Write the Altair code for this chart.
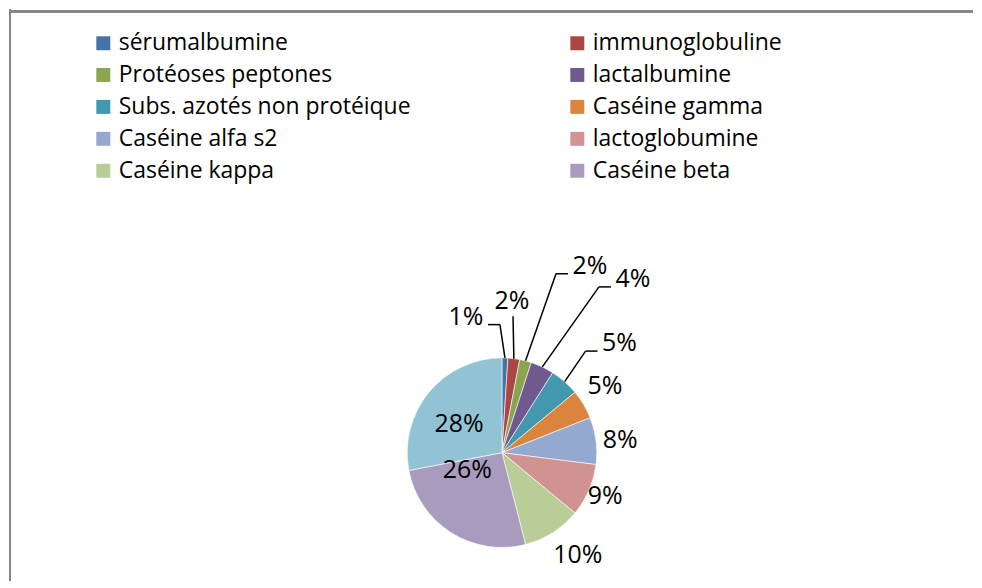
import altair as alt
import pandas as pd

# ---- data ----
names = [
    "sérumalbumine", "immunoglobuline", "Protéoses peptones", "lactalbumine",
    "Subs. azotés non protéique", "Caséine gamma", "Caséine alfa s2",
    "lactoglobumine", "Caséine kappa", "Caséine beta", "Caséine alfa s1",
]
values = [1, 2, 2, 4, 5, 5, 8, 9, 10, 26, 28]
colors = [
    "#4572A7", "#AA4643", "#89A54E", "#71588F", "#4198AF", "#DB843D",
    "#93A9CF", "#D19392", "#B9CD96", "#A99BBD", "#92C3D4",
]
legend_names = names[:10]  # the last entry is cut off in the original legend

# ---- label layout (placement of the data labels, not data) ----
label_radius = [141, 152, 207, 218, 161, 123, 119, 112, 128, 39, 52]
label_angle_shift = [-16.6, -3.4, 10.8, 11.8, 5.6, -2.4, 1.2, -0.7, -4.0, 30.6, -5.6]
callout_side = ["L", "B", "R", "R", "R", "", "", "", "", "", ""]

W, H = 966, 572
CX, CY, R = 494, 444, 95
FONT = "Open Sans"

df = pd.DataFrame({
    "name": names,
    "value": values,
    "order": list(range(len(names))),
    "lr": label_radius,
    "shift": label_angle_shift,
    "side": callout_side,
})

base = alt.Chart(df).transform_joinaggregate(
    total="sum(value)"
).transform_window(
    cum="sum(value)", sort=[alt.SortField("order")], frame=[None, 0]
).transform_calculate(
    mid="(datum.cum - datum.value / 2) / datum.total * 2 * PI",
).transform_calculate(
    la="datum.mid + datum.shift * PI / 180",
    ax=f"{CX} + {R} * sin(datum.mid)",
    ay=f"{CY} - {R} * cos(datum.mid)",
    label="datum.value + '%'",
).transform_calculate(
    lx=f"{CX} + datum.lr * sin(datum.la)",
    ly=f"{CY} - datum.lr * cos(datum.la)",
).transform_calculate(
    sx="datum.side == 'R' ? 1 : (datum.side == 'L' ? -1 : 0)",
).transform_calculate(
    cx="datum.side == 'B' ? datum.lx + 1 : datum.lx - datum.sx * 22",
    cy="datum.side == 'B' ? datum.ly + 15 : datum.ly + 8",
    bx="datum.side == 'B' ? datum.lx + 1 : datum.lx - datum.sx * 34",
)

pie = alt.Chart(df).mark_arc(
    outerRadius=R, stroke="#ffffff", strokeWidth=0.6
).encode(
    theta=alt.Theta("value:Q", stack=True),
    order=alt.Order("order:Q"),
    color=alt.Color(
        "name:N",
        scale=alt.Scale(domain=names, range=colors),
        sort=names,
        legend=alt.Legend(
            title=None,
            values=legend_names,
            orient="none",
            direction="horizontal",
            legendX=83,
            legendY=22,
            columns=2,
            columnPadding=155,
            rowPadding=8,
            symbolType="square",
            symbolSize=196,
            symbolStrokeWidth=0,
            symbolOpacity=1,
            labelFont=FONT,
            labelFontSize=23,
            labelColor="#000000",
            labelOffset=4,
            labelLimit=600,
            padding=0,
        ),
    ),
    x=alt.value(CX),
    y=alt.value(CY),
)

callouts = base.transform_filter("datum.side != ''")

lead1 = callouts.mark_rule(color="#000000", strokeWidth=1.5).encode(
    x=alt.X("ax:Q", scale=None), y=alt.Y("ay:Q", scale=None),
    x2="bx:Q", y2="cy:Q",
)
lead2 = callouts.mark_rule(color="#000000", strokeWidth=1.5).encode(
    x=alt.X("bx:Q", scale=None), y=alt.Y("cy:Q", scale=None),
    x2="cx:Q", y2="cy:Q",
)

labels = base.mark_text(
    font=FONT, fontSize=25, color="#000000", align="center", baseline="middle"
).encode(
    x=alt.X("lx:Q", scale=None),
    y=alt.Y("ly:Q", scale=None),
    text="label:N",
)

frame_top = alt.Chart(df).mark_rule(color="#868686", strokeWidth=2).encode(
    x=alt.value(0), x2=alt.value(W), y=alt.value(2)
)
frame_left = alt.Chart(df).mark_rule(color="#868686", strokeWidth=2).encode(
    x=alt.value(1), y=alt.value(0), y2=alt.value(H)
)

chart = alt.layer(pie, lead1, lead2, labels, frame_top, frame_left).properties(
    width=W, height=H, padding=0, background="#ffffff"
).configure_view(stroke=None)

chart.save("out.html", embed_options={"renderer": "svg", "actions": False})
